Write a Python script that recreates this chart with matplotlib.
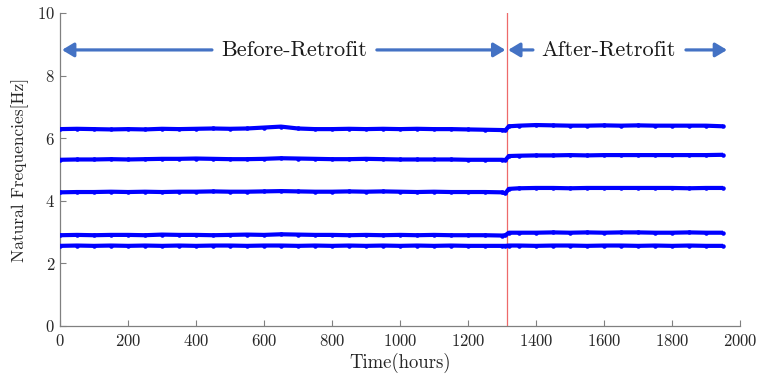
import numpy as np
import matplotlib
matplotlib.use("Agg")
import matplotlib.pyplot as plt

# time samples (hours)
hours = [0, 50, 100, 150, 200, 250, 300, 350, 400, 450, 500, 550, 600, 650, 700,
         750, 800, 850, 900, 950, 1000, 1050, 1100, 1150, 1200, 1250, 1300, 1310,
         1320, 1350, 1400, 1450, 1500, 1550, 1600, 1650, 1700, 1750, 1800, 1850, 1900, 1950]

mode1 = [2.56, 2.57, 2.56, 2.57, 2.56, 2.57, 2.56, 2.57, 2.56, 2.57, 2.57, 2.56, 2.57, 2.57, 2.56,
         2.57, 2.56, 2.57, 2.56, 2.57, 2.56, 2.57, 2.56, 2.57, 2.56, 2.56, 2.56, 2.56,
         2.57, 2.57, 2.56, 2.57, 2.57, 2.56, 2.57, 2.57, 2.56, 2.57, 2.56, 2.57, 2.56, 2.56]
mode2 = [2.90, 2.91, 2.90, 2.91, 2.91, 2.90, 2.92, 2.91, 2.91, 2.90, 2.91, 2.92, 2.91, 2.93, 2.92,
         2.91, 2.91, 2.90, 2.91, 2.90, 2.91, 2.90, 2.91, 2.90, 2.90, 2.90, 2.89, 2.90,
         2.98, 2.98, 2.98, 2.99, 2.98, 2.99, 2.98, 2.99, 2.99, 2.98, 2.98, 2.99, 2.98, 2.98]
mode3 = [4.27, 4.28, 4.28, 4.29, 4.28, 4.29, 4.28, 4.29, 4.29, 4.30, 4.29, 4.29, 4.30, 4.31, 4.30,
         4.29, 4.29, 4.30, 4.29, 4.30, 4.29, 4.28, 4.29, 4.28, 4.28, 4.28, 4.27, 4.24,
         4.38, 4.40, 4.41, 4.41, 4.40, 4.41, 4.41, 4.41, 4.41, 4.41, 4.41, 4.40, 4.41, 4.41]
mode4 = [5.31, 5.32, 5.32, 5.33, 5.32, 5.33, 5.34, 5.34, 5.35, 5.34, 5.33, 5.33, 5.34, 5.36, 5.35,
         5.34, 5.33, 5.33, 5.34, 5.33, 5.32, 5.32, 5.32, 5.32, 5.31, 5.31, 5.31, 5.30,
         5.43, 5.44, 5.45, 5.45, 5.46, 5.45, 5.46, 5.46, 5.46, 5.46, 5.46, 5.46, 5.46, 5.47]
mode5 = [6.29, 6.30, 6.29, 6.28, 6.29, 6.28, 6.30, 6.29, 6.30, 6.31, 6.30, 6.31, 6.34, 6.37, 6.31,
         6.29, 6.29, 6.30, 6.29, 6.30, 6.29, 6.30, 6.29, 6.29, 6.28, 6.27, 6.26, 6.25,
         6.38, 6.40, 6.42, 6.41, 6.40, 6.40, 6.41, 6.40, 6.41, 6.40, 6.40, 6.40, 6.40, 6.38]

modes = [mode1, mode2, mode3, mode4, mode5]
retrofit_hour = 1314
x_ticks = [0, 200, 400, 600, 800, 1000, 1200, 1400, 1600, 1800, 2000]
y_ticks = [0, 2, 4, 6, 8, 10]

plt.rcParams['font.family'] = ['cmr10', 'DejaVu Serif']
plt.rcParams['axes.formatter.use_mathtext'] = True
plt.rcParams['mathtext.fontset'] = 'cm'

fig = plt.figure(figsize=(7.6, 3.81), dpi=100)
ax = fig.add_axes([0.0789, 0.1444, 0.8948, 0.8215])

for m in modes:
    ax.plot(hours, m, color='#0000FF', lw=3.0, solid_capstyle='butt', zorder=3)
    ax.plot(hours, m, linestyle='none', marker='.', ms=4.5, color='#0000FF', zorder=3)

ax.axvline(retrofit_hour, color='#EE6A6A', lw=0.9, zorder=2)

ax.set_xlim(0, 2000)
ax.set_ylim(0, 10)
ax.set_xticks(x_ticks)
ax.set_yticks(y_ticks)
for s in ['top', 'right']:
    ax.spines[s].set_visible(False)
for s in ['left', 'bottom']:
    ax.spines[s].set_color('#808080')
    ax.spines[s].set_linewidth(0.9)
ax.tick_params(direction='in', length=4, color='#808080', labelsize=12, labelcolor='#262626')
ax.tick_params(axis='x', pad=5)
ax.set_xlabel('Time(hours)', fontsize=13.5, color='#262626', labelpad=3)
ax.set_ylabel('Natural Frequencies[Hz]', fontsize=12.5, color='#262626', labelpad=6)

arrow_c = '#4472C4'
ay = 8.82
aprops = dict(arrowstyle='-|>,head_length=0.7,head_width=0.42', lw=2.3, color=arrow_c,
              shrinkA=0, shrinkB=0, mutation_scale=10)
ax.annotate('', xy=(6, ay), xytext=(447, ay), arrowprops=aprops)
ax.annotate('', xy=(1310, ay), xytext=(932, ay), arrowprops=aprops)
ax.annotate('', xy=(1318, ay), xytext=(1391, ay), arrowprops=aprops)
ax.annotate('', xy=(1962, ay), xytext=(1841, ay), arrowprops=aprops)
ax.text(690, ay, 'Before-Retrofit', fontsize=16, ha='center', va='center', color='#1a1a1a')
ax.text(1614, ay, 'After-Retrofit', fontsize=16, ha='center', va='center', color='#1a1a1a')

fig.savefig('out.png', dpi=100)
